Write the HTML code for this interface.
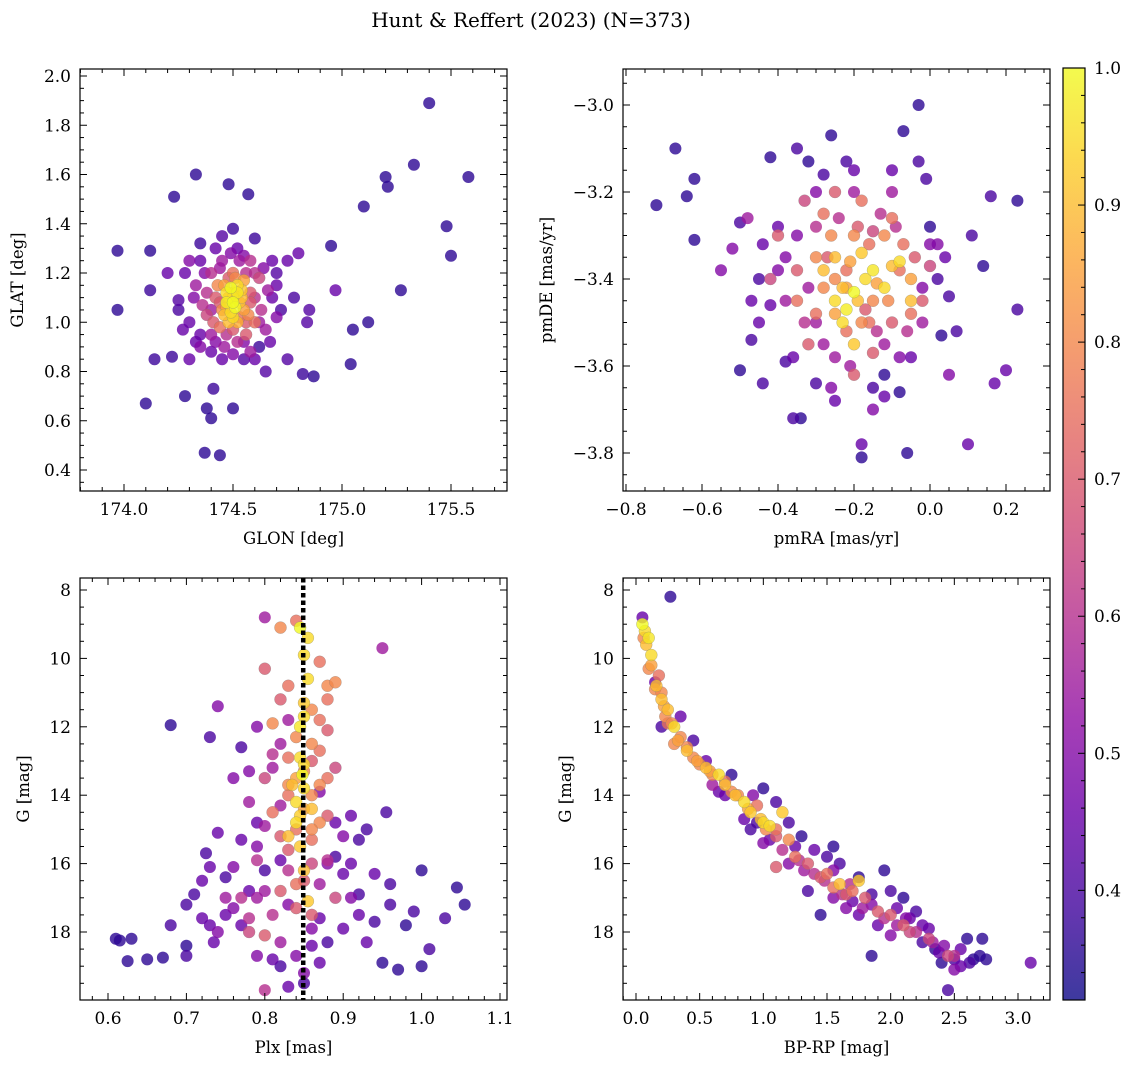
<!DOCTYPE html>
<html><head><meta charset="utf-8"><style>
body{margin:0;background:#fff;}
svg text{font-family:"DejaVu Serif","Liberation Serif",serif;fill:#000;}
</style></head><body>
<svg id="fig" width="1136" height="1068" viewBox="0 0 1136 1068" xmlns="http://www.w3.org/2000/svg">
<rect width="1136" height="1068" fill="#fff"/>
<text x="531" y="27" font-size="20" text-anchor="middle">Hunt &amp; Reffert (2023) (N=373)</text>
</svg>
<script>
// Panel 1: GLON vs GLAT
const glonX=[173.97,173.97,174.1,174.12,174.12,174.14,174.2,174.22,174.23,174.25,174.27,174.28,174.3,174.33,174.35,174.37,174.38,174.4,174.41,174.44,174.48,174.5,174.5,174.57,174.65,174.7,174.75,174.8,174.82,174.87,174.84,174.85,174.95,174.97,175.04,175.05,175.1,175.12,175.2,175.21,175.27,175.33,175.4,175.48,175.5,175.58,174.55,174.6,174.45,174.62,174.68,174.3,174.35,174.33,174.38,174.4,
174.45,174.5,174.48,174.52,174.55,174.47,174.5,174.53,174.58,174.6,174.42,174.44,174.56,174.5,174.62,174.4,174.58,174.45,174.63,174.38,174.52,174.46,174.65,174.49,174.51,174.47,174.54,174.46,174.52,174.55,174.43,174.57,174.41,174.6,174.66,174.7,174.36,174.5,174.58,174.55,
174.3,174.32,174.35,174.37,174.4,174.42,174.44,174.47,174.49,174.53,174.56,174.6,174.62,174.64,174.67,174.7,174.72,174.75,174.78,174.4,174.45,174.55,174.6,174.52,174.42,174.35,174.28,174.25,174.33,174.68,174.48,174.53,174.44,174.58,174.5,174.47,174.54,174.51,174.46,174.56,174.5,174.49,174.52,174.48,174.5];
const glatY=[1.29,1.05,0.67,1.29,1.13,0.85,1.2,0.86,1.51,1.09,0.97,0.7,1.25,1.6,1.32,0.47,0.65,0.61,0.73,0.46,1.56,0.65,1.38,1.52,0.8,1.2,0.85,1.28,0.79,0.78,1.0,1.05,1.31,1.13,0.83,0.97,1.47,1.0,1.59,1.55,1.13,1.64,1.89,1.39,1.27,1.59,0.85,1.34,1.35,0.9,1.1,0.85,0.9,1.15,1.12,0.95,
1.05,1.1,1.0,1.15,1.05,1.12,1.02,1.08,1.12,1.0,1.1,0.98,0.95,1.2,1.18,1.2,1.25,1.25,1.05,1.03,0.92,0.9,0.97,1.14,1.06,1.08,1.13,1.03,1.0,1.17,1.15,1.03,1.0,1.2,1.13,1.02,1.07,0.87,0.88,1.27,
1.0,1.1,0.95,1.2,1.05,0.92,1.22,0.95,1.28,1.25,1.2,1.1,1.0,1.22,0.92,1.15,1.05,1.25,1.1,0.88,0.85,0.92,0.85,1.3,1.3,1.25,1.2,1.05,0.92,1.25,1.18,1.02,1.08,1.08,1.12,1.06,1.1,1.18,1.15,1.0,0.97,1.04,1.12,1.1,1.08];
const glatP=[.36,.36,.36,.36,.38,.38,.45,.38,.36,.42,.45,.36,.5,.36,.38,.36,.36,.36,.38,.36,.36,.36,.38,.36,.42,.42,.42,.45,.38,.36,.42,.42,.36,.45,.36,.36,.36,.36,.36,.36,.36,.36,.36,.36,.36,.36,.42,.38,.42,.38,.45,.45,.5,.55,.6,.55,
.8,.95,.9,.95,.85,.95,.95,.9,.7,.75,.7,.75,.7,.75,.65,.6,.6,.55,.6,.65,.6,.55,.55,1.0,1.0,.98,.92,.9,.88,.85,.8,.8,.7,.6,.55,.5,.6,.5,.55,.5,
.45,.5,.45,.5,.55,.5,.55,.6,.5,.55,.6,.6,.55,.5,.45,.45,.4,.45,.4,.45,.45,.5,.45,.45,.45,.45,.45,.4,.45,.45,.7,.75,.7,.7,.85,.85,.9,.8,.85,.7,.7,.95,.97,.9,1.0];
// Panel 2: pmRA vs pmDE
const pmraX=[-0.72,-0.67,-0.64,-0.62,-0.62,-0.5,-0.47,-0.45,-0.44,-0.42,-0.4,-0.38,-0.36,-0.34,-0.35,-0.32,-0.3,-0.28,-0.26,-0.25,-0.22,-0.2,-0.18,-0.18,-0.15,-0.12,-0.08,-0.07,-0.06,-0.03,-0.03,-0.01,0.0,0.02,0.03,0.05,0.07,0.1,0.11,0.14,0.16,0.17,0.2,0.23,0.23,-0.52,-0.55,-0.48,-0.42,-0.38,-0.05,-0.02,0.0,-0.1,-0.12,-0.25,-0.3,-0.15,0.05,-0.45,
-0.4,-0.35,-0.3,-0.28,-0.25,-0.22,-0.2,-0.18,-0.15,-0.12,-0.08,-0.05,-0.02,-0.32,-0.2,-0.15,-0.1,-0.3,-0.26,-0.07,-0.35,-0.42,-0.22,-0.18,-0.28,-0.05,-0.1,-0.25,-0.33,0.0,
-0.25,-0.22,-0.2,-0.17,-0.15,-0.12,-0.1,-0.23,-0.2,-0.28,-0.08,-0.25,-0.05,-0.18,
-0.35,-0.32,-0.3,-0.28,-0.27,-0.24,-0.22,-0.21,-0.19,-0.17,-0.16,-0.14,-0.13,-0.11,-0.09,-0.06,-0.04,-0.02,0.02,-0.38,-0.4,-0.44,-0.36,-0.26,-0.12,-0.08,-0.3,-0.2,-0.1,-0.25,-0.19,-0.14,-0.21,-0.23,-0.16,-0.33,0.04,-0.47,-0.5,-0.15];
const pmdeY=[-3.23,-3.1,-3.21,-3.17,-3.31,-3.61,-3.54,-3.4,-3.64,-3.12,-3.28,-3.59,-3.72,-3.72,-3.1,-3.13,-3.64,-3.16,-3.07,-3.68,-3.13,-3.15,-3.78,-3.81,-3.65,-3.62,-3.66,-3.06,-3.8,-3.0,-3.13,-3.17,-3.28,-3.4,-3.53,-3.44,-3.52,-3.78,-3.3,-3.37,-3.21,-3.64,-3.61,-3.22,-3.47,-3.33,-3.38,-3.26,-3.46,-3.35,-3.58,-3.42,-3.32,-3.2,-3.55,-3.58,-3.5,-3.7,-3.62,-3.5,
-3.3,-3.45,-3.35,-3.25,-3.4,-3.52,-3.3,-3.22,-3.45,-3.3,-3.38,-3.48,-3.45,-3.55,-3.62,-3.57,-3.26,-3.48,-3.3,-3.32,-3.38,-3.4,-3.42,-3.5,-3.42,-3.4,-3.5,-3.2,-3.22,-3.37,
-3.45,-3.47,-3.43,-3.4,-3.38,-3.42,-3.37,-3.5,-3.55,-3.38,-3.36,-3.35,-3.45,-3.34,
-3.3,-3.42,-3.28,-3.55,-3.35,-3.26,-3.38,-3.6,-3.28,-3.47,-3.32,-3.52,-3.25,-3.45,-3.28,-3.52,-3.35,-3.5,-3.32,-3.45,-3.38,-3.32,-3.58,-3.65,-3.67,-3.58,-3.2,-3.2,-3.15,-3.48,-3.45,-3.41,-3.36,-3.42,-3.5,-3.5,-3.35,-3.45,-3.27,-3.29];
const pmP=[.36,.36,.36,.36,.36,.36,.4,.4,.4,.36,.45,.4,.4,.36,.4,.36,.4,.4,.36,.45,.4,.45,.45,.36,.4,.36,.36,.36,.36,.36,.4,.4,.36,.4,.36,.4,.4,.45,.4,.36,.4,.45,.45,.36,.4,.5,.5,.55,.45,.5,.45,.5,.5,.55,.55,.55,.55,.5,.5,.45,
.7,.75,.8,.75,.8,.75,.8,.75,.8,.8,.75,.75,.7,.7,.7,.7,.75,.75,.8,.75,.7,.65,.85,.8,.8,.85,.7,.7,.65,.65,
.95,.98,1.0,.95,.97,.95,.9,.95,.92,.9,.95,.9,.9,.92,
.5,.55,.6,.55,.7,.6,.75,.55,.7,.7,.75,.6,.6,.8,.6,.6,.7,.55,.5,.55,.5,.45,.45,.5,.45,.5,.5,.55,.45,.85,.9,.85,.85,.9,.75,.6,.45,.45,.4,.65];
// Panel 3: Plx vs G
const plxX=[0.61,0.615,0.625,0.63,0.65,0.67,0.68,0.7,0.7,0.71,0.72,0.725,0.73,0.73,0.735,0.74,0.74,0.75,0.75,0.76,0.77,0.77,0.78,0.78,0.79,0.8,0.8,0.81,0.82,0.82,0.83,0.87,0.88,0.89,0.9,0.9,0.92,0.92,0.93,0.94,0.95,0.955,0.96,0.97,0.98,0.99,1.0,1.0,1.01,1.03,1.045,1.055,0.95,0.91,0.89,0.86,0.85,0.8,0.76,0.74,0.79,0.91,0.94,0.88,0.87,0.82,0.81,0.83,0.82,0.79,
0.8,0.81,0.82,0.84,0.86,0.88,0.88,0.87,0.85,0.83,0.86,0.87,0.84,0.83,0.81,0.86,0.88,0.82,0.84,0.86,0.8,0.78,0.77,0.89,0.85,0.88,0.83,0.87,0.86,0.82,0.79,0.8,0.84,0.89,
0.845,0.855,0.85,0.855,0.85,0.845,0.845,0.848,0.85,0.84,0.845,0.84,0.83,0.85,0.855,0.845,0.85,0.85,0.86,0.835,
0.78,0.79,0.8,0.81,0.82,0.83,0.84,0.86,0.87,0.88,0.89,0.9,0.91,0.86,0.83,0.81,0.8,0.77,0.76,0.75,0.73,0.72,0.78,0.84,0.86,0.87,0.83,0.82,0.85,0.86,0.84,0.87,0.88,0.92,0.93,0.96,0.7,0.68,0.85,0.83,0.79,0.87];
const plxG=[18.2,18.25,18.85,18.2,18.8,18.75,11.95,17.2,18.4,16.9,17.6,15.7,16.1,12.3,18.3,11.4,15.1,16.4,17.5,13.5,12.6,17.8,16.8,13.3,14.8,8.8,16.2,18.8,19.0,15.9,17.2,17.6,18.3,15.8,16.3,17.9,15.3,16.9,15.0,17.7,18.9,14.5,16.6,19.1,17.8,17.4,16.2,19.0,18.5,17.6,16.7,17.2,9.7,14.6,14.8,18.4,19.5,19.7,17.3,18.0,17.0,17.0,16.3,16.0,13.9,14.3,13.2,11.8,12.5,12.0,
10.3,11.9,9.1,12.3,11.5,10.8,11.2,12.7,13.3,13.7,14.0,14.8,15.0,15.6,14.5,15.3,13.5,16.8,17.3,17.5,18.1,18.0,17.0,17.0,16.5,12.1,10.8,10.1,16.0,15.2,15.9,13.5,8.9,10.7,
9.1,9.4,9.9,10.6,11.7,12.0,12.9,13.4,13.8,14.2,14.6,14.8,15.2,16.2,17.1,15.5,13.1,11.3,14.4,13.7,
14.2,15.5,16.8,17.5,18.3,16.2,18.7,13.0,16.6,14.6,13.2,15.2,16.0,17.9,14.0,12.8,14.9,15.3,16.1,17.0,17.8,16.5,17.6,16.6,12.5,13.7,12.9,11.2,14.4,15.0,13.5,11.8,15.9,17.5,18.3,17.2,18.7,17.8,19.2,19.6,18.7,18.9];
const plxP=[.36,.36,.36,.36,.36,.36,.36,.4,.36,.4,.45,.4,.45,.4,.45,.5,.45,.4,.45,.5,.4,.45,.45,.5,.45,.55,.4,.45,.4,.45,.5,.45,.4,.4,.45,.45,.4,.4,.4,.4,.36,.4,.4,.36,.36,.4,.36,.36,.4,.4,.36,.36,.55,.45,.45,.45,.4,.6,.5,.5,.55,.5,.45,.5,.5,.55,.55,.55,.55,.5,
.7,.8,.8,.8,.8,.8,.75,.75,.8,.8,.8,.8,.75,.7,.75,.75,.75,.7,.7,.7,.7,.65,.6,.65,.7,.7,.75,.75,.65,.7,.6,.65,.75,.8,
1,.95,.95,.95,.95,.97,.95,1,.95,.95,.93,.95,.9,.9,.92,.92,.95,.92,.9,.9,
.55,.5,.55,.6,.55,.6,.5,.7,.55,.7,.65,.5,.45,.5,.75,.6,.55,.45,.5,.55,.45,.45,.6,.75,.8,.8,.75,.7,.85,.8,.85,.75,.6,.45,.45,.4,.4,.4,.5,.45,.5,.45];
// Panel 4: BP-RP vs G
const bprpX=[0.05,0.07,0.1,0.12,0.3,0.4,0.65,0.85,0.9,1.0,1.05,1.15,1.6,1.75,0.55,0.25,0.2,
0.06,0.1,0.15,0.2,0.23,0.3,0.35,0.45,0.5,0.6,0.7,0.75,0.95,1.1,1.2,1.25,1.35,1.45,1.5,1.65,1.8,1.9,2.0,2.1,2.15,2.3,2.45,1.55,1.7,0.8,1.1,0.18,0.25,
0.05,0.27,0.15,0.2,0.35,0.45,0.55,0.65,0.75,0.85,0.95,1.0,1.1,1.05,1.2,1.25,1.3,1.35,1.45,1.5,1.6,1.7,1.75,1.85,1.85,1.95,2.0,2.05,2.1,2.2,2.25,2.35,2.4,2.45,2.5,2.55,2.6,2.65,2.7,2.72,2.75,3.1,2.3,2.15,1.9,2.5,1.55,0.9,1.65,
0.08,0.12,0.16,0.22,0.28,0.33,0.4,0.48,0.58,0.7,0.78,0.88,0.98,1.02,1.1,1.15,1.28,1.32,1.4,1.48,1.55,1.62,1.68,1.78,1.85,1.95,2.05,2.12,2.2,2.25,2.33,2.38,2.42,2.5,2.55,2.62,0.6,0.7,0.92,1.0,1.2,1.4,1.55,1.75,2.0];
const bprpG=[9.0,9.2,9.4,9.9,12.0,12.7,13.4,14.2,14.5,14.8,14.9,14.5,16.6,16.5,13.2,11.5,11.2,
9.4,10.3,10.9,11.0,11.7,12.5,12.3,12.9,13.1,13.4,13.6,13.9,14.3,15.0,15.3,15.8,16.0,16.4,16.3,16.9,17.0,17.4,17.5,17.8,18.0,18.2,18.7,16.7,16.8,14.0,16.1,10.5,11.9,
8.8,8.2,10.7,12.0,11.7,12.4,13.0,13.9,13.4,14.7,14.8,13.8,14.2,15.3,14.8,15.5,15.2,16.8,17.5,15.8,16.0,17.1,16.4,18.7,16.9,16.2,16.8,17.3,17.0,17.4,18.3,18.5,18.9,19.7,18.8,19.0,18.2,18.8,18.7,18.2,18.8,18.9,17.9,17.6,17.8,19.1,15.5,15.0,17.3,
9.6,10.2,10.8,11.4,11.9,12.4,12.6,13.0,13.3,13.7,14.0,14.4,14.7,15.0,15.2,15.6,15.9,16.2,16.3,16.5,16.2,16.9,16.6,17.3,17.2,17.6,17.8,17.6,18.0,17.8,18.3,18.6,18.4,18.7,18.5,18.9,13.7,14.0,14.0,15.4,16.0,15.6,17.0,17.5,18.1];
const bprpP=[1,.95,.97,.95,.95,.9,.95,.95,.92,.95,.95,.92,.9,.92,.9,.9,.9,
.8,.8,.8,.8,.8,.8,.8,.8,.8,.8,.75,.8,.75,.75,.8,.75,.7,.7,.75,.7,.7,.7,.7,.7,.65,.65,.65,.75,.75,.8,.7,.75,.75,
.45,.36,.45,.4,.45,.4,.45,.45,.36,.45,.4,.36,.4,.45,.4,.45,.36,.4,.36,.4,.4,.45,.36,.36,.4,.36,.4,.45,.36,.4,.4,.36,.36,.4,.4,.45,.36,.36,.36,.36,.36,.45,.45,.45,.45,.5,.36,.4,.5,
.9,.85,.9,.85,.8,.85,.8,.85,.85,.9,.9,.85,.9,.8,.7,.6,.6,.55,.6,.6,.5,.6,.6,.55,.5,.6,.55,.5,.6,.45,.55,.45,.5,.6,.45,.4,.55,.45,.5,.5,.5,.45,.5,.45,.5];
const cbTicks=[0.4,0.5,0.6,0.7,0.8,0.9,1.0];

const NS='http://www.w3.org/2000/svg';
const fig=document.getElementById('fig');
function mk(tag,attrs,parent){const e=document.createElementNS(NS,tag);for(const k in attrs)e.setAttribute(k,attrs[k]);(parent||fig).appendChild(e);return e;}
const stops=[[13,8,135],[65,4,157],[106,0,168],[143,13,164],[177,42,144],[204,71,120],[225,100,98],[242,132,75],[252,166,54],[252,206,37],[240,249,33]];
const VMIN=0.32,VMAX=1.0;
function plasma(t){t=Math.max(0,Math.min(1,t))*10;const i=Math.min(9,Math.floor(t)),f=t-i;const a=stops[i],b=stops[i+1];return 'rgb('+a.map((v,k)=>Math.round(v+(b[k]-v)*f)).join(',')+')';}
function col(p){return plasma((p-VMIN)/(VMAX-VMIN));}
function fmt(v,d){let s=v.toFixed(d);if(v<0)s='\u2212'+s.slice(1);return s;}

function panel(cfg){
  const g=mk('g',{});
  
  
  const {L,R,T,B}=cfg;
  const sx=v=>cfg.xp0+(v-cfg.xv0)*(cfg.xp1-cfg.xp0)/(cfg.xv1-cfg.xv0);
  const sy=v=>cfg.yp0+(v-cfg.yv0)*(cfg.yp1-cfg.yp0)/(cfg.yv1-cfg.yv0);
  const inv=(p,p0,p1,v0,v1)=>v0+(p-p0)*(v1-v0)/(p1-p0);
  const xa=inv(L,cfg.xp0,cfg.xp1,cfg.xv0,cfg.xv1),xb=inv(R,cfg.xp0,cfg.xp1,cfg.xv0,cfg.xv1);
  const ya=inv(T,cfg.yp0,cfg.yp1,cfg.yv0,cfg.yv1),yb=inv(B,cfg.yp0,cfg.yp1,cfg.yv0,cfg.yv1);
  const cp='clip-'+cfg.name;
  const cpe=mk('clipPath',{id:cp},g);mk('rect',{x:L,y:T,width:R-L,height:B-T},cpe);
  const pts=mk('g',{'clip-path':'url(#'+cp+')'},g);
  
  
  const idx=cfg.p.map((_,i)=>i).sort((a,b)=>cfg.p[a]-cfg.p[b]);
  idx.forEach(i=>{
    const c=mk('circle',{cx:sx(cfg.x[i]).toFixed(1),cy:sy(cfg.y[i]).toFixed(1),r:6,fill:col(cfg.p[i]),'fill-opacity':0.8,stroke:'#777','stroke-opacity':cfg.p[i]>0.6?0.5:0,'stroke-width':0.5},pts);
    
    
  });
  if(cfg.vline!==undefined){
    const ln=mk('line',{x1:sx(cfg.vline),x2:sx(cfg.vline),y1:T,y2:B,stroke:'#000','stroke-width':4.5,'stroke-dasharray':'4.5 3'},g);
    
    
  }
  mk('rect',{x:L,y:T,width:R-L,height:B-T,fill:'none',stroke:'#000','stroke-width':1.2},g);
  const eps=1e-9;
  for(let k=Math.ceil(xa/cfg.xmin-eps);k*cfg.xmin<=xb+eps;k++){
    const v=k*cfg.xmin,px=sx(v);if(px<L-0.5||px>R+0.5)continue;
    const maj=Math.abs(v/cfg.xmaj-Math.round(v/cfg.xmaj))<1e-6;const len=maj?7:4;
    mk('line',{x1:px,x2:px,y1:B,y2:B-len,stroke:'#000','stroke-width':1},g);
    mk('line',{x1:px,x2:px,y1:T,y2:T+len,stroke:'#000','stroke-width':1},g);
    if(maj){const t=mk('text',{x:px,y:B+24,'font-size':17,'text-anchor':'middle'},g);t.textContent=fmt(v,cfg.xd);
      }
  }
  const lo=Math.min(ya,yb),hi=Math.max(ya,yb);
  for(let k=Math.ceil(lo/cfg.ymin-eps);k*cfg.ymin<=hi+eps;k++){
    const v=k*cfg.ymin,py=sy(v);if(py<T-0.5||py>B+0.5)continue;
    const maj=Math.abs(v/cfg.ymaj-Math.round(v/cfg.ymaj))<1e-6;const len=maj?7:4;
    mk('line',{x1:L,x2:L+len,y1:py,y2:py,stroke:'#000','stroke-width':1},g);
    mk('line',{x1:R,x2:R-len,y1:py,y2:py,stroke:'#000','stroke-width':1},g);
    if(maj){const t=mk('text',{x:L-9,y:py+6,'font-size':17,'text-anchor':'end'},g);t.textContent=fmt(v,cfg.yd);
      }
  }
  const xt=mk('text',{x:(L+R)/2,y:B+53,'font-size':16.5,'text-anchor':'middle'},g);xt.textContent=cfg.xl;
  
  const yx=cfg.ylx,yy=(T+B)/2;
  const yt=mk('text',{x:yx,y:yy,'font-size':16.5,'text-anchor':'middle',transform:'rotate(-90 '+yx+' '+yy+')'},g);yt.textContent=cfg.yl;
  
}

panel({name:'glon-glat-panel',L:80,R:507,T:69,B:491,xv0:174,xp0:124,xv1:175.5,xp1:451,yv0:2.0,yp0:76,yv1:0.4,yp1:470,xmaj:0.5,xmin:0.1,ymaj:0.2,ymin:0.05,xd:1,yd:1,x:glonX,y:glatY,p:glatP,xl:'GLON [deg]',yl:'GLAT [deg]',ylx:23});
panel({name:'proper-motion-panel',L:623,R:1050,T:69,B:491,xv0:-0.8,xp0:626,xv1:0.2,xp1:1006,yv0:-3.0,yp0:105,yv1:-3.8,yp1:453,xmaj:0.2,xmin:0.05,ymaj:0.2,ymin:0.05,xd:1,yd:1,x:pmraX,y:pmdeY,p:pmP,xl:'pmRA [mas/yr]',yl:'pmDE [mas/yr]',ylx:552});
panel({name:'parallax-panel',L:80,R:507,T:578,B:1000,xv0:0.6,xp0:108,xv1:1.1,xp1:500,yv0:8,yp0:590,yv1:18,yp1:932,xmaj:0.1,xmin:0.02,ymaj:2,ymin:0.5,xd:1,yd:0,x:plxX,y:plxG,p:plxP,xl:'Plx [mas]',yl:'G [mag]',ylx:29,vline:0.849});
panel({name:'cmd-panel',L:623,R:1050,T:578,B:1000,xv0:0,xp0:636,xv1:3,xp1:1018,yv0:8,yp0:590,yv1:18,yp1:932,xmaj:0.5,xmin:0.1,ymaj:2,ymin:0.5,xd:1,yd:0,x:bprpX,y:bprpG,p:bprpP,xl:'BP-RP [mag]',yl:'G [mag]',ylx:571});

const cb=mk('g',{});


const defs=mk('defs',{},cb);
const lg=mk('linearGradient',{id:'cbg',x1:0,y1:1,x2:0,y2:0},defs);
for(let i=0;i<=20;i++){mk('stop',{offset:i/20,'stop-color':plasma(i/20)},lg);}
const CT=68,CB=1000,CL=1063,CR=1085;
const cy=v=>CT+(VMAX-v)*(CB-CT)/(VMAX-VMIN);
mk('rect',{x:CL,y:CT,width:CR-CL,height:CB-CT,fill:'url(#cbg)','fill-opacity':0.8},cb);
mk('rect',{x:CL,y:CT,width:CR-CL,height:CB-CT,fill:'none',stroke:'#000','stroke-width':1.2},cb);
for(let k=17;k<=50;k++){const v=k*0.02,py=cy(v);if(py>CB||py<CT-0.5)continue;
  const maj=(k%5===0);mk('line',{x1:CR,x2:CR-(maj?7:4),y1:py,y2:py,stroke:'#000','stroke-width':1},cb);}
cbTicks.forEach(v=>{const t=mk('text',{x:CR+9,y:cy(v)+6,'font-size':17},cb);t.textContent=v.toFixed(1);
  });
</script>
</body></html>
